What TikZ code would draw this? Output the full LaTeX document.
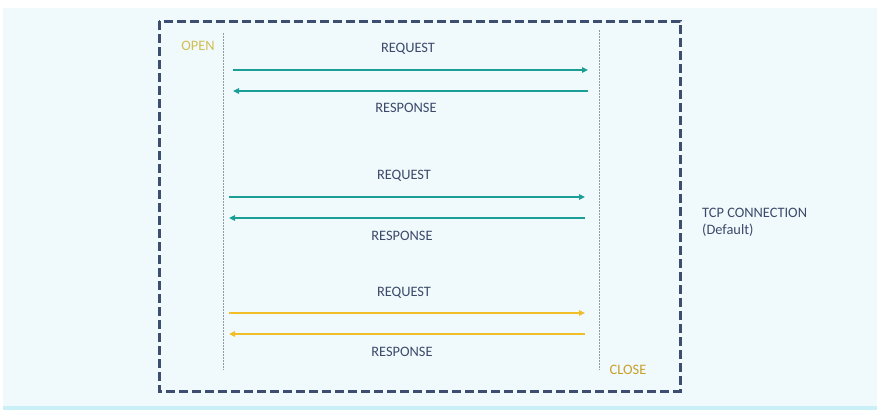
\documentclass[tikz,border=0pt]{standalone}
\usepackage{fontspec}
\setmainfont{Carlito}
\usetikzlibrary{arrows.meta}
\definecolor{bgpanel}{HTML}{F0FAFD}
\definecolor{bgline}{HTML}{C8F0F6}
\definecolor{boxc}{HTML}{3E4E70}
\definecolor{tealc}{HTML}{1A9E96}
\definecolor{yelc}{HTML}{F0BE28}
\definecolor{txtc}{HTML}{3C4A6A}
\definecolor{openc}{HTML}{D2BE50}
\definecolor{closec}{HTML}{C8A028}
\definecolor{lifec}{HTML}{909AA0}
\tikzset{
  lbl/.style={font=\fontsize{14.4}{17}\selectfont, text=txtc, inner sep=0pt},
  msg/.style={line width=2.6pt, -{Triangle[length=6pt,width=5.5pt]}},
  life/.style={draw=lifec, line width=0.7pt, dash pattern=on 1.5pt off 1.5pt},
}
\begin{document}
\begin{tikzpicture}[x=1pt,y=-1pt]
\useasboundingbox (0,0) rectangle (883,413);
\fill[white] (0,0) rectangle (883,413);
\fill[bgpanel] (3,8) rectangle (877,406);
\fill[bgline] (3,406) rectangle (877,410);
% dashed box
\draw[boxc, line width=3pt, dash pattern=on 9pt off 4pt] (159,21) rectangle (680,391);
% lifelines
\coordinate (L1) at (223,33); \coordinate (L2) at (223,370);
\coordinate (R1) at (599,30); \coordinate (R2) at (599,370);
\draw[life] (L1) -- (L2);
\draw[life] (R1) -- (R2);
% endpoints
\coordinate (a1) at (233,70); \coordinate (b1) at (588,70);
\coordinate (a2) at (588,91); \coordinate (b2) at (233,91);
\coordinate (a3) at (229,197); \coordinate (b3) at (585,197);
\coordinate (a4) at (585,218); \coordinate (b4) at (229,218);
\coordinate (a5) at (229,313); \coordinate (b5) at (585,313);
\coordinate (a6) at (585,334); \coordinate (b6) at (229,334);
\draw[msg, tealc] (a1) -- (b1);
\draw[msg, tealc] (a2) -- (b2);
\draw[msg, tealc] (a3) -- (b3);
\draw[msg, tealc] (a4) -- (b4);
\draw[msg, yelc] (a5) -- (b5);
\draw[msg, yelc] (a6) -- (b6);
% labels
\node[lbl] (q1) at (408,49) {REQUEST};
\node[lbl] (r1) at (406,108) {RESPONSE};
\node[lbl] (q2) at (404,176) {REQUEST};
\node[lbl] (r2) at (402,236) {RESPONSE};
\node[lbl] (q3) at (404,293) {REQUEST};
\node[lbl] (r3) at (402,352) {RESPONSE};
\node[lbl, text=openc] (open) at (198,46) {OPEN};
\node[lbl, text=closec] (close) at (628,370) {CLOSE};
\node[lbl, anchor=west] (tcp) at (702,213) {TCP CONNECTION};
\node[lbl, anchor=west] (def) at (702,230) {(Default)};
\end{tikzpicture}
\end{document}
